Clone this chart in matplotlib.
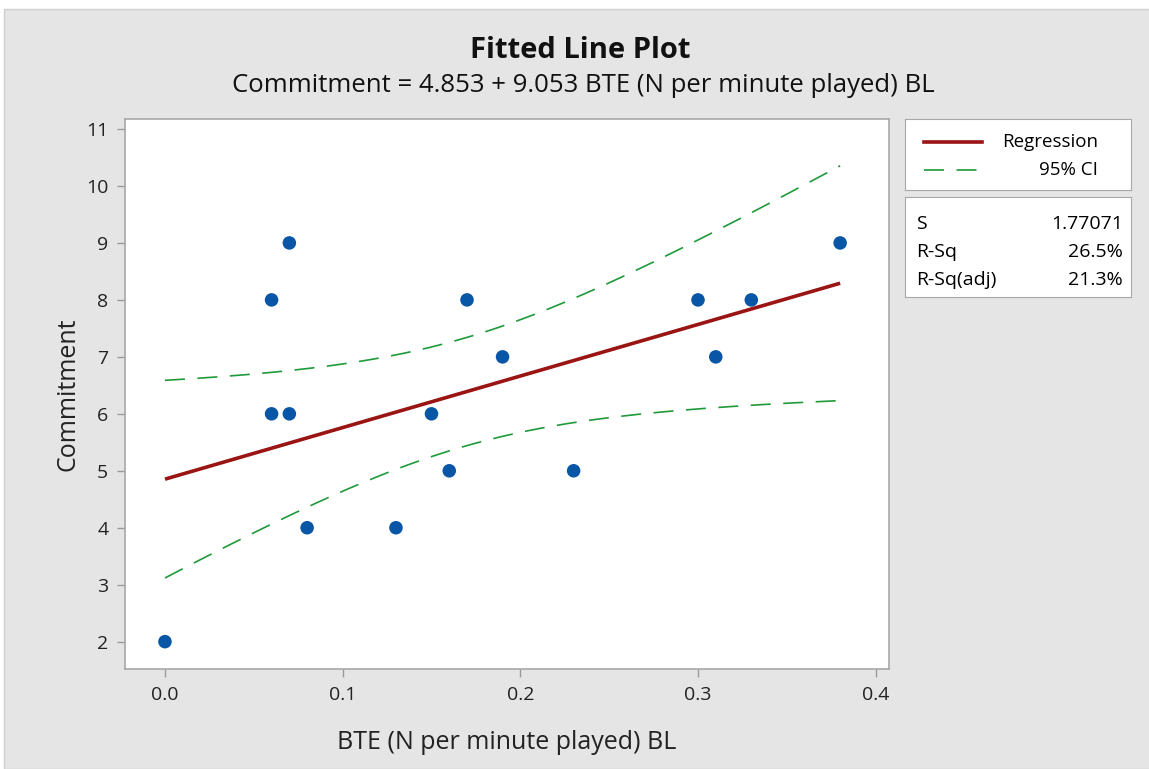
import numpy as np
import matplotlib
matplotlib.use("Agg")
import matplotlib.pyplot as plt
from matplotlib.patches import Rectangle

plt.rcParams["font.family"] = ["Open Sans", "DejaVu Sans"]

# observations
bte = [0.00, 0.06, 0.06, 0.07, 0.07, 0.08, 0.13, 0.15,
       0.16, 0.17, 0.19, 0.23, 0.30, 0.31, 0.33, 0.38]
commitment = [2, 8, 6, 9, 6, 4, 4, 6, 5, 8, 7, 5, 8, 7, 8, 9]

# fit summary
INTERCEPT = 4.853
SLOPE = 9.053
S = 1.77071
RSQ = 26.5
RSQ_ADJ = 21.3
T_CRIT = 2.145  # t(0.975, df=14)

x_ticks = [0.0, 0.1, 0.2, 0.3, 0.4]
y_ticks = [2, 3, 4, 5, 6, 7, 8, 9, 10, 11]

W, H = 1149, 769
fig = plt.figure(figsize=(W / 100, H / 100), dpi=100, facecolor="white")
fig.patches.append(Rectangle((4 / W, 0), 1, 1 - 9 / H, transform=fig.transFigure,
                             facecolor="#e5e5e5", edgecolor="#cfcfcf", lw=1, zorder=-1))

ax = fig.add_axes([125 / W, 1 - 669 / H, (889 - 125) / W, (669 - 119) / H])
ax.set_facecolor("white")

x = np.asarray(bte)
n = len(x)
xbar = x.mean()
sxx = ((x - xbar) ** 2).sum()
xs = np.linspace(x.min(), x.max(), 200)
fit = INTERCEPT + SLOPE * xs
half = T_CRIT * S * np.sqrt(1 / n + (xs - xbar) ** 2 / sxx)

green = "#1f9a3a"
ci_dash = (12, 7.5)
ax.plot(xs, fit + half, color=green, lw=1.2, dashes=ci_dash)
ax.plot(xs, fit - half, color=green, lw=1.2, dashes=ci_dash)
ax.plot(xs, fit, color="#9a1414", lw=2.6, solid_capstyle="butt")
ax.scatter(bte, commitment, s=95, color="#0a56a6", edgecolors="none", zorder=3)

ax.set_xlim(-0.0225, 0.4075)
ax.set_ylim(1.52, 11.176)
ax.set_xticks(x_ticks)
ax.set_yticks(y_ticks)
ax.tick_params(direction="out", length=6, width=1, color="#9a9a9a",
               labelsize=14, labelcolor="#222222", pad=6)
for sp in ax.spines.values():
    sp.set_color("#a8a8a8")
    sp.set_linewidth(1.2)

ax.set_xlabel("BTE (N per minute played) BL", fontsize=18, color="#222222", labelpad=19)
ax.set_ylabel("Commitment", fontsize=18, color="#222222", labelpad=4)

fig.text(580 / W, 1 - 50 / H, "Fitted Line Plot", ha="center", va="center",
         fontsize=21, fontweight="bold", color="#111111")
fig.text(583 / W, 1 - 86 / H, "Commitment = 4.853 + 9.053 BTE (N per minute played) BL",
         ha="center", va="center", fontsize=18.5, color="#111111")

# legend box
lg = fig.add_axes([905 / W, 1 - 190 / H, (1131 - 905) / W, (190 - 119) / H])
lg.set_xlim(0, 1)
lg.set_ylim(0, 1)
lg.set_xticks([])
lg.set_yticks([])
for sp in lg.spines.values():
    sp.set_color("#a8a8a8")
lg.plot([0.085, 0.34], [0.67, 0.67], color="#9a1414", lw=2.6)
lg.plot([0.085, 0.34], [0.28, 0.28], color=green, lw=1.2, dashes=ci_dash)
lg.text(0.855, 0.67, "Regression", ha="right", va="center", fontsize=13.5)
lg.text(0.855, 0.28, "95% CI", ha="right", va="center", fontsize=13.5)

# summary statistics box
st = fig.add_axes([905 / W, 1 - 297 / H, (1131 - 905) / W, (297 - 197) / H])
st.set_xlim(0, 1)
st.set_ylim(0, 1)
st.set_xticks([])
st.set_yticks([])
for sp in st.spines.values():
    sp.set_color("#a8a8a8")
rows = [("S", f"{S:.5f}"), ("R-Sq", f"{RSQ:.1f}%"), ("R-Sq(adj)", f"{RSQ_ADJ:.1f}%")]
for i, (name, val) in enumerate(rows):
    yy = 0.73 - i * 0.28
    st.text(0.05, yy, name, ha="left", va="center", fontsize=14)
    st.text(0.965, yy, val, ha="right", va="center", fontsize=14)

fig.savefig("out.png", dpi=100, facecolor=fig.get_facecolor())
